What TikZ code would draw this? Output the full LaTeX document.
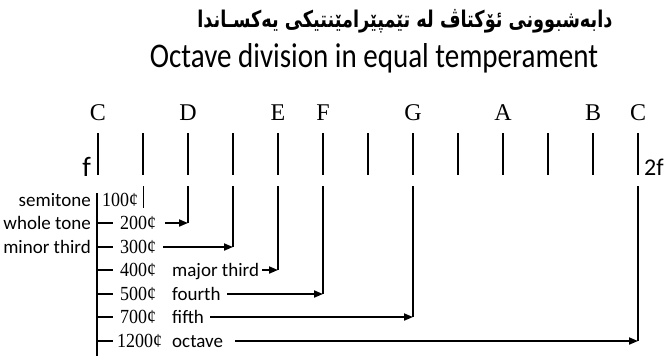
\documentclass[tikz,border=0pt]{standalone}
\usepackage{fontspec}
\setmainfont{Liberation Serif}
\newfontfamily\labfont{Carlito}
\newfontfamily\centfont[FakeStretch=0.9]{Liberation Serif}
\newfontfamily\arabicfont[Script=Arabic, FakeStretch=0.77]{DejaVu Sans}
\TeXXeTstate=1
\usetikzlibrary{arrows.meta}
\begin{document}
\begin{tikzpicture}[x=1pt,y=-1pt,
  note/.style={font=\fontsize{24}{24}\selectfont, inner sep=0pt, anchor=base},
  lab/.style={font=\labfont\fontsize{19}{19}\selectfont, inner sep=0pt},
  cents/.style={font=\centfont\fontsize{20}{20}\selectfont, inner sep=0pt, anchor=base west},
  tickline/.style={line width=2.4pt},
  guide/.style={line width=1.8pt},
  arr/.style={line width=1.8pt, -{Triangle[length=9pt,width=7pt]}},
]
\useasboundingbox (0,0) rectangle (671,360);

% titles
\node[inner sep=0pt, anchor=base, font=\arabicfont\bfseries\fontsize{23}{23}\selectfont] (titleku) at (405,27)
  {\beginR دابەشبوونی ئۆکتاڤ لە تێمپێرامێنتیکی یەکسـاندا\endR};
\node[inner sep=0pt, anchor=base] (titleen) at (374,67)
  {\resizebox{448pt}{24pt}{\labfont Octave division in equal temperament}};

% top ticks
\foreach \i in {0,...,12} {
  \coordinate (t\i) at ({98+45*\i},133);
  \coordinate (b\i) at ({98+45*\i},175);
  \coordinate (lt\i) at ({98+45*\i},186);
  \draw[tickline] (t\i) -- (b\i);
}

% note names
\node[note] (nC) at (98,120) {C};
\node[note] (nD) at (188,120) {D};
\node[note] (nE) at (278,120) {E};
\node[note] (nF) at (323,120) {F};
\node[note] (nG) at (413,120) {G};
\node[note] (nA) at (503,120) {A};
\node[note] (nB) at (593,120) {B};
\node[note] (nC2) at (638,120) {C};

\node[inner sep=0pt, anchor=base east, font=\labfont\fontsize{28}{28}\selectfont] (f) at (91,176) {f};
\node[inner sep=0pt, anchor=base west, font=\labfont\fontsize{24}{24}\selectfont] (ff) at (644,175) {2f};

% main vertical
\coordinate (mtop) at (97,193);
\coordinate (mbot) at (97,356);
\draw[tickline] (mtop) -- (mbot);

% left labels
\node[lab, anchor=base east] (semi) at (91,206) {semitone};
\node[lab, anchor=base east] (whole) at (91,229) {whole tone};
\node[lab, anchor=base east] (minor) at (91,253) {minor third};

% stubs
\foreach \r/\y in {2/223,3/247,4/270,5/294,6/317,7/341} {
  \coordinate (ss\r) at (97,\y);
  \coordinate (se\r) at (113,\y);
  \draw[guide] (ss\r) -- (se\r);
}

% cents
\node[cents] (c1) at (102,206) {100¢};
\node[cents] (c2) at (120,229) {200¢};
\node[cents] (c3) at (120,253) {300¢};
\node[cents] (c4) at (120,276) {400¢};
\node[cents] (c5) at (120,300) {500¢};
\node[cents] (c6) at (120,323) {700¢};
\node[cents] (c7) at (117,347) {1200¢};

% interval names
\node[lab, anchor=base west] (i4) at (172,276) {major third};
\node[lab, anchor=base west] (i5) at (172,300) {fourth};
\node[lab, anchor=base west] (i6) at (172,323) {fifth};
\node[lab, anchor=base west] (i7) at (172,347) {octave};

% semitone marker
\coordinate (semiend) at (143,208);
\draw[line width=1pt] (lt1) -- (semiend);

% arrows and drop lines
\coordinate (a2) at (165,223); \coordinate (k2) at (188,223);
\coordinate (a3) at (163,247); \coordinate (k3) at (233,247);
\coordinate (a4) at (262,270); \coordinate (k4) at (278,270);
\coordinate (a5) at (227,294); \coordinate (k5) at (323,294);
\coordinate (a6) at (210,317); \coordinate (k6) at (413,317);
\coordinate (a7) at (235,341); \coordinate (k7) at (638,341);

\draw[guide] (lt2) -- (k2);
\draw[guide] (lt3) -- (k3);
\draw[guide] (lt4) -- (k4);
\draw[guide] (lt5) -- (k5);
\draw[guide] (lt7) -- (k6);
\draw[guide] (lt12) -- (k7);

\draw[arr] (a2) -- (k2);
\draw[arr] (a3) -- (k3);
\draw[arr] (a4) -- (k4);
\draw[arr] (a5) -- (k5);
\draw[arr] (a6) -- (k6);
\draw[arr] (a7) -- (k7);
\end{tikzpicture}
\end{document}
